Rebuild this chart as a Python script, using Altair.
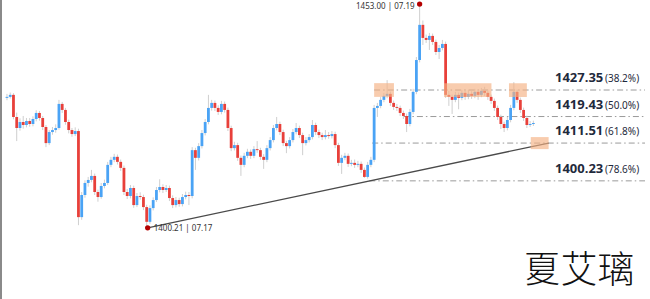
import altair as alt
import pandas as pd

# ---------------- data ----------------
open0 = 1425.0
closes = [
    1425.3, 1425.9, 1419.3, 1416.0, 1417.8, 1416.9, 1418.1, 1417.2, 1418.7, 1420.5,
    1419.0, 1416.3, 1411.5, 1414.8, 1415.4, 1416.0, 1423.2, 1421.4, 1417.8, 1415.4,
    1414.2, 1415.1, 1389.4, 1396.0, 1399.6, 1400.5, 1401.7, 1396.9, 1395.4, 1398.7,
    1399.6, 1405.0, 1406.5, 1407.4, 1405.9, 1404.1, 1396.9, 1395.7, 1398.1, 1393.0,
    1395.7, 1395.4, 1392.4, 1388.0, 1392.1, 1394.5, 1397.5, 1398.4, 1397.5, 1398.1,
    1395.1, 1393.0, 1394.5, 1393.3, 1395.4, 1396.0, 1395.7, 1409.4, 1407.1, 1410.6,
    1414.5, 1417.8, 1422.0, 1423.5, 1422.0, 1420.8, 1423.2, 1421.4, 1416.0, 1410.0,
    1410.9, 1407.1, 1405.0, 1407.7, 1408.9, 1407.7, 1409.7, 1409.4, 1407.4, 1406.5,
    1410.0, 1412.4, 1416.0, 1417.2, 1414.8, 1411.5, 1410.6, 1412.4, 1414.8, 1416.0,
    1413.9, 1411.5, 1412.4, 1413.3, 1416.9, 1414.8, 1413.9, 1413.3, 1413.9, 1413.6,
    1414.2, 1410.9, 1405.6, 1407.1, 1407.7, 1405.3, 1405.6, 1405.0, 1405.3, 1403.5,
    1401.4, 1405.0, 1406.5, 1422.0, 1422.6, 1424.4, 1425.6, 1426.2, 1423.5, 1422.3,
    1422.0, 1420.5, 1419.6, 1417.2, 1420.8, 1426.8, 1436.3, 1446.8, 1442.9, 1442.3,
    1443.5, 1441.7, 1438.7, 1439.9, 1441.1, 1425.9, 1425.3, 1424.4, 1425.9, 1425.0,
    1426.5, 1425.3, 1426.2, 1425.6, 1426.8, 1425.9, 1427.1, 1426.5, 1425.3, 1424.1,
    1422.0, 1419.3, 1417.2, 1416.0, 1418.4, 1422.0, 1426.8, 1424.4, 1421.4, 1419.0,
    1416.9, 1417.2, 1417.5,
]
highs = [
    1426.2, 1426.6, 1426.4, 1420.6, 1418.9, 1419.6, 1419.0, 1419.0, 1419.5, 1421.3,
    1421.1, 1419.6, 1416.9, 1415.4, 1416.3, 1417.1, 1424.4, 1423.8, 1422.0, 1418.5,
    1416.0, 1416.2, 1415.8, 1396.9, 1400.4, 1401.4, 1403.5, 1402.4, 1397.6, 1399.6,
    1400.6, 1405.9, 1407.4, 1408.3, 1408.1, 1406.6, 1404.8, 1397.8, 1399.0, 1398.8,
    1396.6, 1396.8, 1396.1, 1393.1, 1392.9, 1395.3, 1398.4, 1400.7, 1399.2, 1399.0,
    1398.8, 1395.9, 1395.4, 1395.2, 1396.3, 1397.0, 1396.9, 1410.3, 1410.1, 1411.5,
    1415.4, 1418.7, 1425.9, 1424.4, 1424.2, 1422.8, 1424.1, 1423.9, 1422.1, 1416.7,
    1411.9, 1411.6, 1407.8, 1408.6, 1409.8, 1409.6, 1410.6, 1412.1, 1410.1, 1408.2,
    1410.9, 1413.3, 1416.9, 1419.3, 1417.9, 1415.5, 1412.2, 1413.3, 1415.7, 1417.5,
    1416.7, 1414.6, 1413.3, 1414.2, 1418.4, 1417.6, 1415.5, 1414.6, 1415.4, 1414.8,
    1415.1, 1414.9, 1411.6, 1408.0, 1408.6, 1408.4, 1406.5, 1406.6, 1406.2, 1406.0,
    1404.2, 1405.9, 1407.4, 1422.9, 1423.5, 1425.3, 1426.5, 1430.3, 1426.9, 1424.2,
    1423.2, 1422.7, 1421.2, 1420.3, 1421.7, 1427.7, 1437.2, 1453.0, 1448.1, 1443.9,
    1444.4, 1444.2, 1442.4, 1440.8, 1442.3, 1441.8, 1427.1, 1426.0, 1426.8, 1426.6,
    1427.4, 1427.6, 1427.4, 1427.0, 1427.7, 1427.5, 1428.0, 1428.3, 1427.2, 1426.0,
    1424.8, 1422.7, 1420.0, 1417.9, 1419.3, 1422.9, 1429.7, 1427.5, 1425.1, 1422.1,
    1419.7, 1418.1, 1418.2,
]
lows = [
    1424.3, 1424.8, 1418.6, 1412.1, 1415.2, 1415.8, 1416.2, 1416.4, 1416.5, 1418.0,
    1418.2, 1415.4, 1410.3, 1410.9, 1414.0, 1414.6, 1415.5, 1420.5, 1417.0, 1414.4,
    1413.4, 1413.6, 1387.0, 1388.6, 1395.2, 1398.5, 1399.8, 1396.0, 1394.0, 1394.9,
    1398.0, 1399.0, 1404.3, 1405.8, 1405.1, 1403.2, 1396.0, 1394.8, 1395.0, 1392.2,
    1392.4, 1394.6, 1391.5, 1386.0, 1387.4, 1391.4, 1393.9, 1396.8, 1396.6, 1396.9,
    1394.2, 1392.1, 1392.3, 1392.5, 1392.6, 1394.7, 1393.0, 1395.0, 1403.5, 1406.3,
    1409.9, 1413.8, 1417.1, 1421.2, 1421.1, 1419.9, 1420.1, 1420.6, 1415.1, 1409.1,
    1409.3, 1406.2, 1401.7, 1404.3, 1407.0, 1406.8, 1407.0, 1408.6, 1406.5, 1403.8,
    1405.8, 1409.3, 1411.7, 1415.3, 1413.9, 1410.6, 1408.5, 1409.9, 1411.7, 1414.1,
    1413.0, 1407.9, 1410.8, 1411.7, 1412.6, 1413.9, 1413.0, 1412.4, 1412.6, 1412.8,
    1412.9, 1410.0, 1404.7, 1402.3, 1406.4, 1404.4, 1404.6, 1404.1, 1404.3, 1402.6,
    1401.1, 1400.9, 1404.3, 1405.8, 1419.3, 1421.9, 1423.7, 1424.9, 1422.6, 1421.4,
    1421.1, 1419.6, 1418.7, 1414.8, 1416.5, 1420.1, 1426.1, 1435.6, 1440.8, 1441.4,
    1439.3, 1440.8, 1437.8, 1436.6, 1439.2, 1425.0, 1422.6, 1420.2, 1423.7, 1421.6,
    1424.3, 1424.4, 1424.6, 1424.7, 1424.9, 1424.4, 1425.2, 1425.6, 1424.4, 1423.2,
    1421.1, 1418.4, 1415.7, 1414.8, 1415.3, 1417.7, 1421.3, 1423.5, 1420.5, 1418.1,
    1416.0, 1416.3, 1416.6,
]

fib_levels = [1427.35, 1419.43, 1411.51, 1400.23]
fib_texts = ["1427.35", "1419.43", "1411.51", "1400.23"]
fib_pcts = ["(38.2%)", "(50.0%)", "(61.8%)", "(78.6%)"]
fib_start = [113.0, 122.0, 112.4, 111.5]     # bar index where each level line begins

trend_x = [43.3, 166.7]
trend_p = [1386.2, 1411.5]

box_x0 = [113.0, 134.5, 154.5, 161.2]
box_x1 = [119.1, 149.1, 160.0, 166.7]
box_p0 = [1425.3, 1425.3, 1425.3, 1409.7]
box_p1 = [1429.4, 1429.4, 1429.4, 1413.3]

dot_x = [43.3, 127.0]
dot_p = [1386.2, 1453.0]
dot_text = ["1400.21 | 07.17", "1453.00 | 07.19"]

X_DOMAIN = [-0.606, 196.36]
Y_DOMAIN = [1364.96, 1454.22]

# ---------------- tables ----------------
opens = [open0] + closes[:-1]
df = pd.DataFrame({
    "i": list(range(len(closes))),
    "open": opens, "close": closes, "high": highs, "low": lows,
})
df["dir"] = ["up" if c >= o else "down" for o, c in zip(opens, closes)]

fib_df = pd.DataFrame({"level": fib_levels, "txt": fib_texts, "pct": fib_pcts,
                       "start": fib_start, "end": [X_DOMAIN[1]] * 4})
trend_df = pd.DataFrame({"x0": [trend_x[0]], "x1": [trend_x[1]],
                         "p0": [trend_p[0]], "p1": [trend_p[1]]})
box_df = pd.DataFrame({"x0": box_x0, "x1": box_x1, "p0": box_p0, "p1": box_p1})
dot_df = pd.DataFrame({"x": dot_x, "p": dot_p, "t": dot_text})

XS = alt.Scale(domain=X_DOMAIN, nice=False, zero=False)
YS = alt.Scale(domain=Y_DOMAIN, nice=False, zero=False)

def xq(f):
    return alt.X(f, type="quantitative", scale=XS, axis=None)

def yq(f):
    return alt.Y(f, type="quantitative", scale=YS, axis=None)

fib_lines = alt.Chart(fib_df).mark_rule(
    color="#9a9a9a", strokeWidth=1, strokeDash=[6, 3, 1.5, 3]
).encode(x=xq("start"), x2="end", y=yq("level"))

trend = alt.Chart(trend_df).mark_rule(color="#4a4a4a", strokeWidth=1.3).encode(
    x=xq("x0"), x2="x1", y=yq("p0"), y2="p1")

wicks = alt.Chart(df).mark_rule(color="#cfcfcf", strokeWidth=1).encode(
    x=xq("i"), y=yq("low"), y2="high")

bodies = alt.Chart(df).mark_bar(size=2.8).encode(
    x=xq("i"), y=yq("open"), y2="close",
    color=alt.Color("dir:N", scale=alt.Scale(domain=["up", "down"],
                                             range=["#4aa3f5", "#e8403a"]), legend=None))

boxes = alt.Chart(box_df).mark_rect(color="#f4b183", opacity=0.65).encode(
    x=xq("x0"), x2="x1", y=yq("p0"), y2="p1")

dots = alt.Chart(dot_df).mark_circle(color="#b40000", size=28, opacity=1).encode(
    x=xq("x"), y=yq("p"))

low_lbl = alt.Chart(dot_df.iloc[[0]]).mark_text(
    align="left", baseline="middle", dx=6, dy=1, fontSize=8, color="#333333", font="Noto Sans"
).encode(x=xq("x"), y=yq("p"), text="t:N")
high_lbl = alt.Chart(dot_df.iloc[[1]]).mark_text(
    align="right", baseline="middle", dx=-5, dy=3, fontSize=8, color="#333333", font="Noto Sans"
).encode(x=xq("x"), y=yq("p"), text="t:N")

fib_lbl = alt.Chart(fib_df).mark_text(
    align="left", baseline="middle", dy=-12, fontSize=13, fontWeight="bold",
    color="#1f2a3c", font="Noto Sans"
).encode(x=alt.value(555), y=yq("level"), text="txt:N")
fib_pct = alt.Chart(fib_df).mark_text(
    align="left", baseline="middle", dy=-11, fontSize=10,
    color="#1f2a3c", font="Noto Sans"
).encode(x=alt.value(605), y=yq("level"), text="pct:N")

left_edge = alt.Chart(df.iloc[[0]]).mark_rule(color="#8a8a8a", strokeWidth=2).encode(
    x=alt.value(1), y=alt.value(0), y2=alt.value(299))

name = alt.Chart(pd.DataFrame({"t": ["夏艾璃"]})).mark_text(
    align="center", baseline="middle", fontSize=37, fontWeight=300,
    color="#111111", font="Noto Sans CJK TC"
).encode(x=alt.value(579), y=alt.value(272), text="t:N")

chart = alt.layer(
    fib_lines, trend, wicks, bodies, boxes, dots, low_lbl, high_lbl,
    fib_lbl, fib_pct, left_edge, name
).properties(
    width=650, height=299, padding=0, autosize=alt.AutoSizeParams(type="none"),
    background="white"
).configure_view(stroke=None)

chart.save("out.html", embed_options={"renderer": "svg", "actions": False})
